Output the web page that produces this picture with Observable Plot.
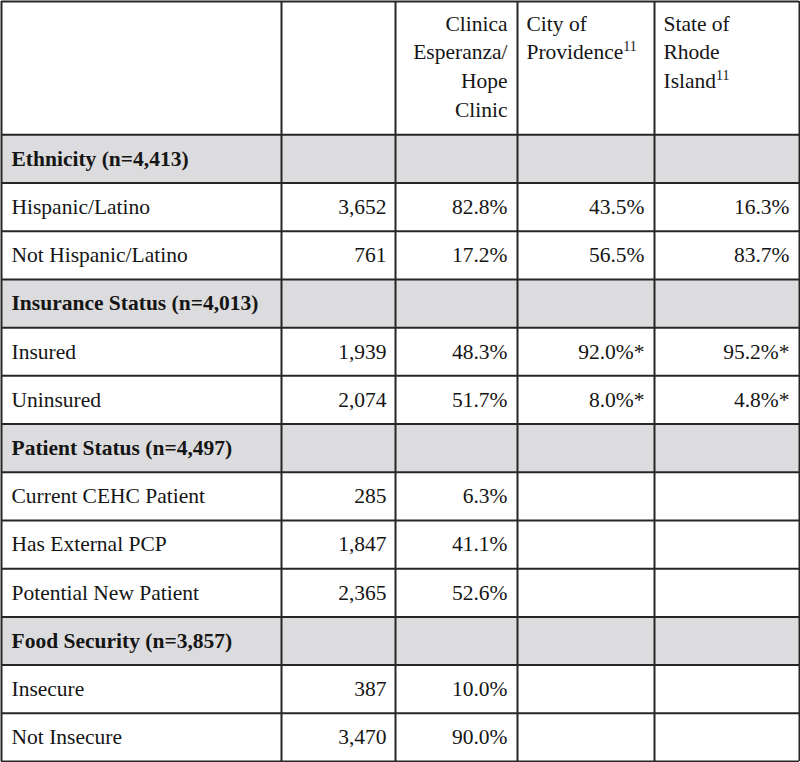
<!DOCTYPE html>
<html>
<head>
<meta charset="utf-8">
<script src="https://cdn.jsdelivr.net/npm/d3@7"></script>
<script src="https://cdn.jsdelivr.net/npm/@observablehq/plot@0.6"></script>
<style>
  html, body { margin: 0; padding: 0; background: #fff; }
  #chart svg { display: block; }
  #chart svg text { font-family: "Liberation Serif", "Times New Roman", Times, "DejaVu Serif", serif; }
</style>
</head>
<body>
<div id="chart"></div>
<script>
// ---------- DATA ----------
const columnHeaders = ["", "", "Clinica\nEsperanza/\nHope\nClinic", "City of\nProvidence", "State of\nRhode\nIsland"];
const headerNotes   = ["", "", "", "11", "11"];
const rowLabels = [
  "Ethnicity (n=4,413)", "Hispanic/Latino", "Not Hispanic/Latino",
  "Insurance Status (n=4,013)", "Insured", "Uninsured",
  "Patient Status (n=4,497)", "Current CEHC Patient", "Has External PCP", "Potential New Patient",
  "Food Security (n=3,857)", "Insecure", "Not Insecure"
];
const groupRows = [true, false, false, true, false, false, true, false, false, false, true, false, false];
const counts    = [null, 3652, 761, null, 1939, 2074, null, 285, 1847, 2365, null, 387, 3470];
const clinicPct = [null, 82.8, 17.2, null, 48.3, 51.7, null, 6.3, 41.1, 52.6, null, 10.0, 90.0];
const cityPct   = [null, 43.5, 56.5, null, 92.0, 8.0, null, null, null, null, null, null, null];
const statePct  = [null, 16.3, 83.7, null, 95.2, 4.8, null, null, null, null, null, null, null];
const starred   = [false, false, false, false, true, true, false, false, false, false, false, false, false];

// ---------- LAYOUT ----------
const colWidths = [280, 114, 122, 137, 145];
const colEdges = [0, ...d3.cumsum(colWidths)];
const total = colEdges[colEdges.length - 1];
const headerRows = 2.766;
const nRows = rowLabels.length;
const rowEdges = [0, ...d3.range(nRows + 1).map(i => headerRows + i)];

const font = "'Liberation Serif', 'Times New Roman', serif";
const fs = 21.5;
const ink = "#151515";
const lineColor = "#262626";
const groupFill = "#dcdcde";

const idx = d3.range(nRows);
const fmtN = d3.format(",");
const fmtP = (v, s) => v == null ? "" : v.toFixed(1) + "%" + (s ? "*" : "");

const rows = idx.map(i => ({
  i,
  label: rowLabels[i],
  group: groupRows[i],
  count: counts[i] == null ? "" : fmtN(counts[i]),
  clinic: fmtP(clinicPct[i], false),
  city: fmtP(cityPct[i], starred[i]),
  state: fmtP(statePct[i], starred[i]),
  yc: headerRows + i + 0.5
}));

const textBase = {fontFamily: font, fontSize: fs, fill: ink, lineAnchor: "middle"};

// append superscript footnote markers to the last line of header texts
function withNotes(cols) {
  return function (index, scales, values, dimensions, context, next) {
    const g = next(index, scales, values, dimensions, context);
    d3.select(g).selectAll("text").each(function (_, k) {
      const note = headerNotes[cols[index[k]]];
      if (!note) return;
      const spans = this.querySelectorAll("tspan");
      const target = spans.length ? spans[spans.length - 1] : this;
      d3.select(target).append("tspan")
        .attr("font-size", 14)
        .attr("baseline-shift", 8)
        .text(note);
    });
    return g;
  };
}

const headerCols = [3, 4];

const chart = Plot.plot({
  width: 800,
  height: 762,
  margin: 0,
  style: {fontFamily: font, background: "#fff"},
  x: {domain: [0, total], range: [1, 799], axis: null},
  y: {domain: [0, headerRows + nRows], range: [1, 761], axis: null},
  marks: [
    // grey group rows
    Plot.rect(rows.filter(d => d.group), {
      x1: 0, x2: total,
      y1: d => headerRows + d.i, y2: d => headerRows + d.i + 1,
      fill: groupFill
    }),
    // grid lines
    Plot.ruleY(rowEdges, {y: d => d, x1: 0, x2: total, stroke: lineColor, strokeWidth: 2}),
    Plot.ruleX(colEdges, {x: d => d, y1: 0, y2: headerRows + nRows, stroke: lineColor, strokeWidth: 2}),
    // headers
    Plot.text([columnHeaders[2]], {
      x: colEdges[3], y: 0, text: d => d, textAnchor: "end", lineAnchor: "top",
      dx: -10, dy: 9, lineHeight: 1.33, fontFamily: font, fontSize: fs, fill: ink
    }),
    Plot.text(headerCols, {
      x: d => colEdges[d], y: 0, text: d => columnHeaders[d], textAnchor: "start", lineAnchor: "top",
      dx: 9, dy: 9, lineHeight: 1.33, fontFamily: font, fontSize: fs, fill: ink,
      render: withNotes(headerCols)
    }),
    // row labels
    Plot.text(rows.filter(d => d.group), {
      ...textBase, x: 0, y: "yc", text: "label", textAnchor: "start", dx: 10, fontWeight: "bold"
    }),
    Plot.text(rows.filter(d => !d.group), {
      ...textBase, x: 0, y: "yc", text: "label", textAnchor: "start", dx: 10
    }),
    // values
    Plot.text(rows, {...textBase, x: colEdges[2], y: "yc", text: "count", textAnchor: "end", dx: -9}),
    Plot.text(rows, {...textBase, x: colEdges[3], y: "yc", text: "clinic", textAnchor: "end", dx: -10}),
    Plot.text(rows, {...textBase, x: colEdges[4], y: "yc", text: "city", textAnchor: "end", dx: -10}),
    Plot.text(rows, {...textBase, x: colEdges[5], y: "yc", text: "state", textAnchor: "end", dx: -10})
  ]
});

document.getElementById("chart").appendChild(chart);
</script>
</body>
</html>
